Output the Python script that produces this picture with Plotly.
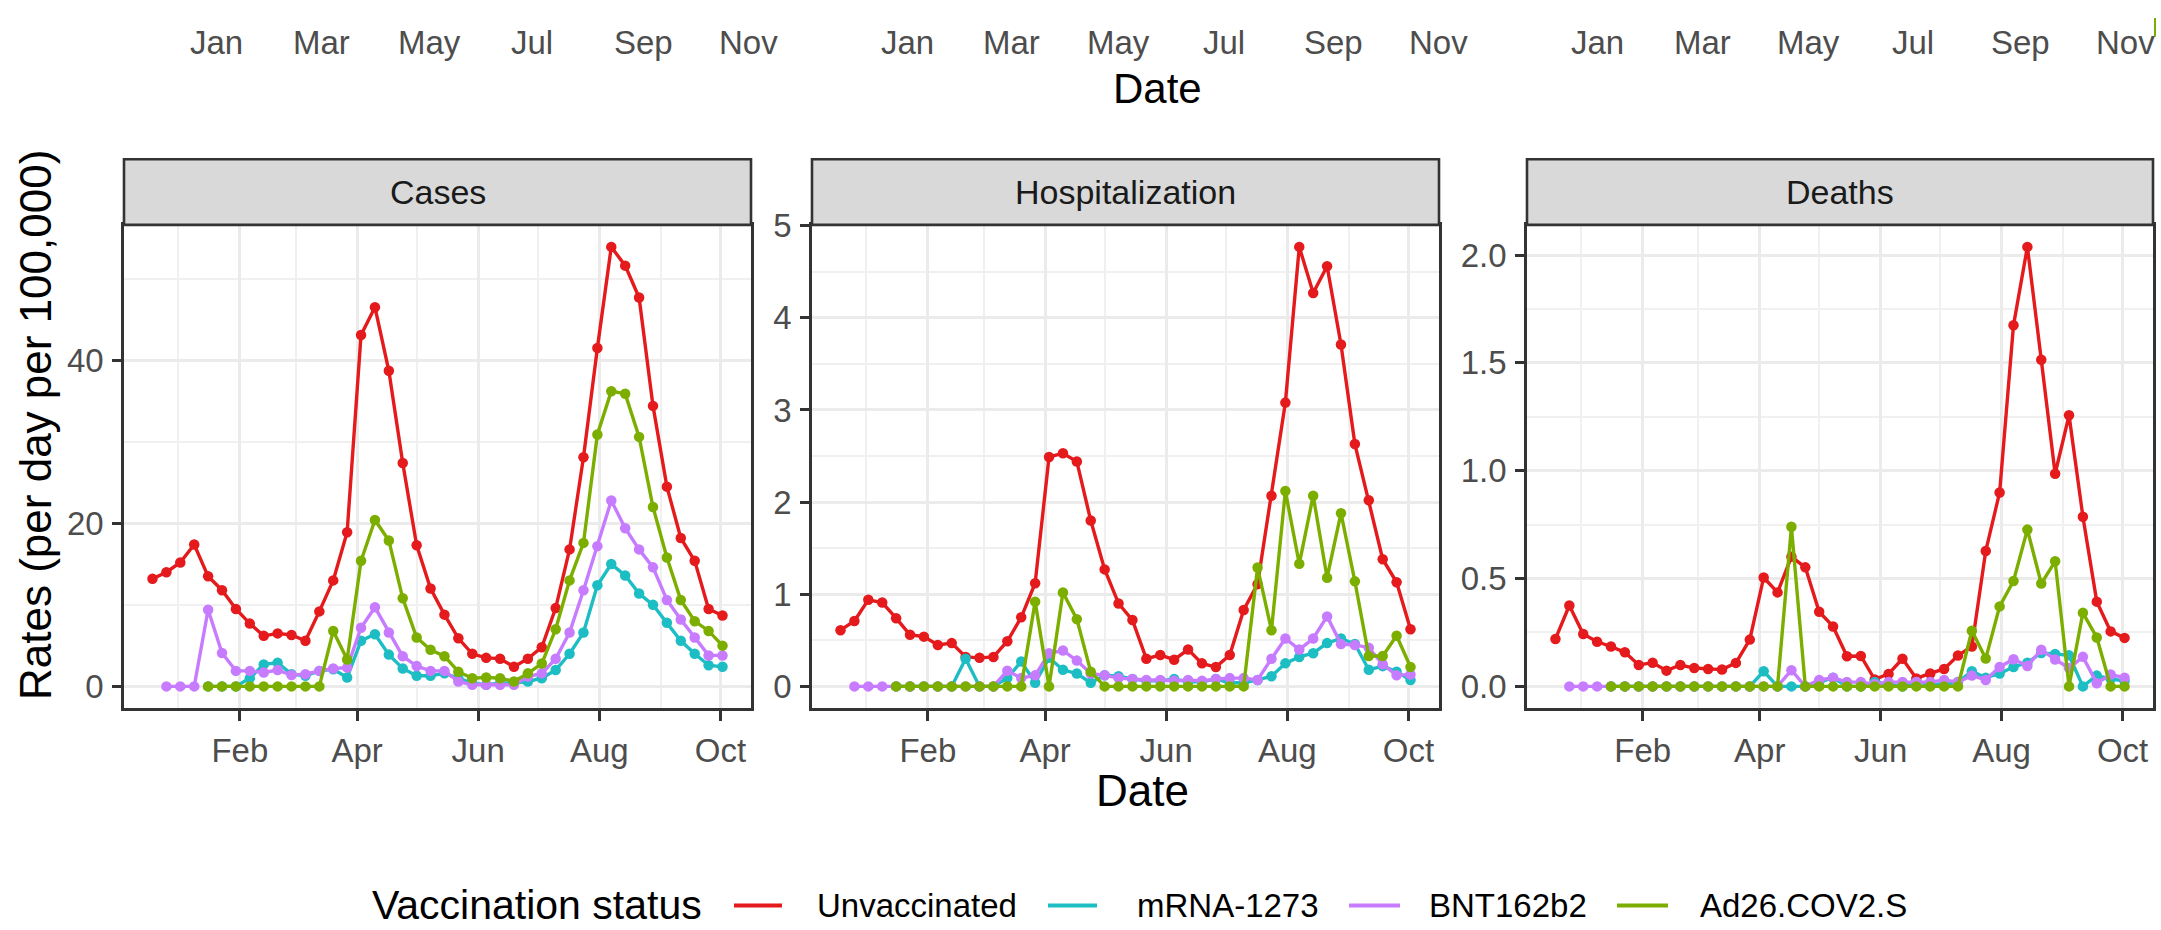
import pandas as pd
import plotly.graph_objects as go

N = None
# weekly reporting dates (42 weeks)
weeks = pd.date_range("2020-12-19", periods=42, freq="7D")

panel_titles = ["Cases", "Hospitalization", "Deaths"]
status_names = ["Unvaccinated", "mRNA-1273", "BNT162b2", "Ad26.COV2.S"]
status_colors = ["#E41A1C", "#1DBDC4", "#C77CFF", "#7CAE00"]
top_month_labels = ["Jan", "Mar", "May", "Jul", "Sep", "Nov"]

# ---------------- Cases ----------------
cases_unvax = [13.2, 14.0, 15.2, 17.4, 13.5, 11.8, 9.5, 7.7, 6.2, 6.5, 6.3, 5.6, 9.2, 13.0,
               18.9, 43.1, 46.5, 38.7, 27.4, 17.3, 12.0, 8.8, 5.9, 4.0, 3.5, 3.4, 2.4, 3.4,
               4.8, 9.6, 16.8, 28.1, 41.5, 53.9, 51.6, 47.7, 34.4, 24.5, 18.2, 15.4, 9.5, 8.7]
cases_mrna = [N, N, N, N, 0, 0, 0, 1.0, 2.7, 2.9, 1.5, 1.3, 1.9, 2.1,
              1.1, 5.6, 6.4, 3.9, 2.2, 1.3, 1.3, 1.6, 1.0, 0.4, 0.2, 0.4, 0.4, 0.6,
              1.0, 2.0, 4.0, 6.6, 12.4, 15.0, 13.6, 11.4, 10.0, 7.8, 5.6, 4.0, 2.6, 2.4]
cases_bnt = [N, 0, 0, 0, 9.4, 4.1, 1.9, 1.9, 1.7, 2.0, 1.4, 1.5, 1.9, 2.2,
             2.3, 7.2, 9.7, 6.6, 3.7, 2.5, 1.9, 1.9, 0.6, 0.2, 0.2, 0.2, 0.2, 1.2,
             1.6, 3.4, 6.6, 11.8, 17.2, 22.8, 19.4, 16.8, 14.6, 10.6, 8.2, 6.0, 3.8, 3.8]
cases_ad26 = [N, N, N, N, 0, 0, 0, 0, 0, 0, 0, 0, 0, 6.8,
              3.3, 15.4, 20.4, 17.9, 10.8, 6.0, 4.5, 3.7, 1.8, 1.0, 1.1, 1.0, 0.6, 1.6,
              2.8, 7.0, 13.0, 17.6, 30.9, 36.2, 35.9, 30.6, 22.0, 15.8, 10.6, 8.0, 6.8, 5.0]

# ---------------- Hospitalization ----------------
hosp_unvax = [0.61, 0.71, 0.94, 0.91, 0.74, 0.56, 0.54, 0.45, 0.47, 0.32, 0.31, 0.32, 0.49, 0.75,
              1.12, 2.49, 2.53, 2.44, 1.80, 1.27, 0.90, 0.72, 0.30, 0.34, 0.29, 0.40, 0.25, 0.21,
              0.34, 0.83, 1.11, 2.07, 3.08, 4.77, 4.27, 4.56, 3.71, 2.63, 2.02, 1.38, 1.13, 0.62]
hosp_mrna = [N, N, N, N, 0, 0, 0, 0, 0, 0.30, 0, 0, 0.09, 0.27,
             0.04, 0.31, 0.18, 0.14, 0.04, 0.12, 0.11, 0.08, 0.06, 0.06, 0.08, 0.05, 0.05, 0.08,
             0.04, 0.04, 0.07, 0.11, 0.25, 0.32, 0.36, 0.47, 0.52, 0.46, 0.18, 0.22, 0.16, 0.07]
hosp_bnt = [N, 0, 0, 0, 0, 0, 0, 0, 0, 0, 0, 0, 0.17, 0.09,
            0.12, 0.36, 0.39, 0.28, 0.14, 0.12, 0.09, 0.08, 0.07, 0.07, 0.06, 0.07, 0.06, 0.08,
            0.09, 0.09, 0.07, 0.30, 0.52, 0.40, 0.52, 0.76, 0.46, 0.45, 0.42, 0.24, 0.12, 0.13]
hosp_ad26 = [N, N, N, N, 0, 0, 0, 0, 0, 0, 0, 0, 0, 0,
             0.92, 0, 1.02, 0.73, 0.16, 0, 0, 0, 0, 0, 0, 0, 0, 0,
             0, 0, 1.29, 0.61, 2.12, 1.33, 2.07, 1.18, 1.88, 1.14, 0.33, 0.33, 0.55, 0.21]

# ---------------- Deaths ----------------
deaths_unvax = [0.22, 0.375, 0.243, 0.207, 0.185, 0.158, 0.099, 0.11, 0.073, 0.099, 0.085, 0.081, 0.078, 0.109,
                0.217, 0.505, 0.436, 0.601, 0.552, 0.346, 0.278, 0.14, 0.141, 0.032, 0.058, 0.128, 0.037, 0.06,
                0.081, 0.143, 0.185, 0.628, 0.899, 1.675, 2.038, 1.515, 0.986, 1.257, 0.787, 0.393, 0.255, 0.225]
deaths_mrna = [N, N, N, N, 0, 0, 0, 0, 0, 0, 0, 0, 0, 0,
               0, 0.07, 0, 0, 0, 0.02, 0.04, 0, 0, 0.02, 0.01, 0, 0.02, 0.01,
               0.01, 0.02, 0.07, 0.04, 0.06, 0.09, 0.11, 0.155, 0.15, 0.144, 0, 0.05, 0.035, 0.025]
deaths_bnt = [N, 0, 0, 0, 0, 0, 0, 0, 0, 0, 0, 0, 0, 0,
              0, 0, 0, 0.075, 0, 0.03, 0.04, 0.02, 0.02, 0.01, 0.02, 0.02, 0.02, 0.02,
              0.03, 0.02, 0.05, 0.03, 0.09, 0.126, 0.095, 0.17, 0.125, 0.085, 0.137, 0.015, 0.055, 0.04]
deaths_ad26 = [N, N, N, N, 0, 0, 0, 0, 0, 0, 0, 0, 0, 0,
               0, 0, 0, 0.74, 0, 0, 0, 0, 0, 0, 0, 0, 0, 0,
               0, 0, 0.258, 0.129, 0.371, 0.489, 0.727, 0.477, 0.58, 0, 0.341, 0.227, 0, 0]

panel_series = [
    [cases_unvax, cases_mrna, cases_bnt, cases_ad26],
    [hosp_unvax, hosp_mrna, hosp_bnt, hosp_ad26],
    [deaths_unvax, deaths_mrna, deaths_bnt, deaths_ad26],
]
y_dticks = [20, 1, 0.5]
y_formats = ["", "", ".1f"]

# ---------------- layout geometry (pixels) ----------------
W, H = 2161, 930
FONT = "Liberation Sans, Arial, Helvetica, sans-serif"
def fx(px): return px / W
def fy(py): return 1 - py / H

panel_px = [(124, 751), (812, 1439), (1527, 2153)]
plot_top, plot_bot, strip_top = 211, 704, 144
strip_frac = (plot_top - strip_top) / (plot_bot - plot_top)

span_days = (weeks[-1] - weeks[0]).days
x_lo = weeks[0] - pd.Timedelta(days=0.05 * span_days)
x_hi = weeks[-1] + pd.Timedelta(days=0.05 * span_days)

TICK_SIZE = 33
fig = go.Figure()
for p, series in enumerate(panel_series):
    ax = "" if p == 0 else str(p + 1)
    for s, vals in enumerate(series):
        fig.add_trace(go.Scatter(
            x=weeks, y=vals, mode="lines+markers",
            name=status_names[s], showlegend=False,
            line=dict(color=status_colors[s], width=3.4),
            marker=dict(color=status_colors[s], size=10.5),
            xaxis="x" + ax, yaxis="y" + ax, connectgaps=False,
        ))

layout = dict(
    width=W, height=H, margin=dict(l=0, r=0, t=0, b=0),
    paper_bgcolor="white", plot_bgcolor="white", showlegend=False,
    font=dict(family=FONT, color="#1A1A1A"),
)
shapes, annotations = [], []
for p, series in enumerate(panel_series):
    ax = "" if p == 0 else str(p + 1)
    vals = [v for ser in series for v in ser if v is not None]
    ymax = max(vals)
    x0, x1 = panel_px[p]
    layout["xaxis" + ax] = dict(
        type="date", domain=[fx(x0), fx(x1)], range=[x_lo, x_hi],
        anchor="y" + ax, tickformat="%b", tick0="2021-02-01", dtick="M2",
        ticks="outside", ticklen=10, tickwidth=2.8, tickcolor="#333333",
        tickfont=dict(size=TICK_SIZE, color="#4D4D4D", family=FONT), ticklabelstandoff=1,
        showgrid=True, gridcolor="#EBEBEB", gridwidth=2.6,
        minor=dict(dtick="M1", tick0="2021-01-01", showgrid=True,
                   gridcolor="#F0F0F0", gridwidth=1.8),
        showline=True, mirror=True, linecolor="#333333", linewidth=2.6,
        zeroline=False, fixedrange=True,
    )
    layout["yaxis" + ax] = dict(
        domain=[fy(plot_bot), fy(plot_top)], range=[-0.05 * ymax, 1.05 * ymax],
        anchor="x" + ax, tick0=0, dtick=y_dticks[p], tickformat=y_formats[p],
        ticks="outside", ticklen=9, tickwidth=2.8, tickcolor="#333333",
        tickfont=dict(size=TICK_SIZE, color="#4D4D4D", family=FONT), ticklabelstandoff=2,
        showgrid=True, gridcolor="#EBEBEB", gridwidth=2.6,
        minor=dict(dtick=y_dticks[p] / 2, tick0=0, showgrid=True,
                   gridcolor="#F0F0F0", gridwidth=1.8),
        showline=True, mirror=True, linecolor="#333333", linewidth=2.6,
        zeroline=False, fixedrange=True,
    )
    # facet strip
    shapes.append(dict(type="rect", xref="x" + ax + " domain", yref="y" + ax + " domain",
                       x0=0, x1=1, y0=1, y1=1 + strip_frac,
                       fillcolor="#D9D9D9", line=dict(color="#333333", width=2.6), layer="above"))
    annotations.append(dict(text=panel_titles[p], xref="x" + ax + " domain", yref="y" + ax + " domain",
                            x=0.5, y=1 + strip_frac / 2, showarrow=False, xanchor="center", yanchor="middle",
                            font=dict(size=34, color="#1A1A1A", family=FONT)))

# axis titles
annotations.append(dict(text="Date", xref="paper", yref="paper", x=fx(1142), y=fy(788),
                        showarrow=False, xanchor="center", yanchor="middle",
                        font=dict(size=44, color="#000000", family=FONT)))
annotations.append(dict(text="Rates (per day per 100,000)", xref="paper", yref="paper",
                        x=fx(36), y=fy(415), textangle=-90, showarrow=False,
                        xanchor="center", yanchor="middle",
                        font=dict(size=44, color="#000000", family=FONT)))

# remnant of the figure above (cropped tick labels and axis title)
top_label_px = [[216, 321, 429, 532, 643, 748],
                [907, 1011, 1118, 1224, 1333, 1439],
                [1597, 1702, 1808, 1913, 2020, 2125]]
for row in top_label_px:
    for lab, px in zip(top_month_labels, row):
        annotations.append(dict(text=lab, xref="paper", yref="paper", x=fx(px), y=fy(25),
                                showarrow=False, xanchor="center", yanchor="middle",
                                font=dict(size=TICK_SIZE, color="#4D4D4D", family=FONT)))
annotations.append(dict(text="Date", xref="paper", yref="paper", x=fx(1157), y=fy(72),
                        showarrow=False, xanchor="center", yanchor="middle",
                        font=dict(size=42, color="#000000", family=FONT)))
shapes.append(dict(type="line", xref="paper", yref="paper", x0=fx(2155), x1=fx(2155),
                   y0=1, y1=fy(19), line=dict(color="#7CAE00", width=2)))

# legend (bottom, horizontal)
leg_y = fy(905)
annotations.append(dict(text="Vaccination status", xref="paper", yref="paper", x=fx(370), y=leg_y,
                        showarrow=False, xanchor="left", yanchor="middle",
                        font=dict(size=41, color="#000000", family=FONT)))
key_px = [(734, 782, 815), (1048, 1097, 1135), (1349, 1400, 1427), (1617, 1668, 1698)]
for s, (k0, k1, t0) in enumerate(key_px):
    shapes.append(dict(type="line", xref="paper", yref="paper", x0=fx(k0), x1=fx(k1),
                       y0=leg_y, y1=leg_y, line=dict(color=status_colors[s], width=4)))
    annotations.append(dict(text=status_names[s], xref="paper", yref="paper", x=fx(t0), y=leg_y,
                            showarrow=False, xanchor="left", yanchor="middle",
                            font=dict(size=33, color="#000000", family=FONT)))

layout["shapes"] = shapes
layout["annotations"] = annotations
fig.update_layout(**layout)
fig.write_html("out.html")
